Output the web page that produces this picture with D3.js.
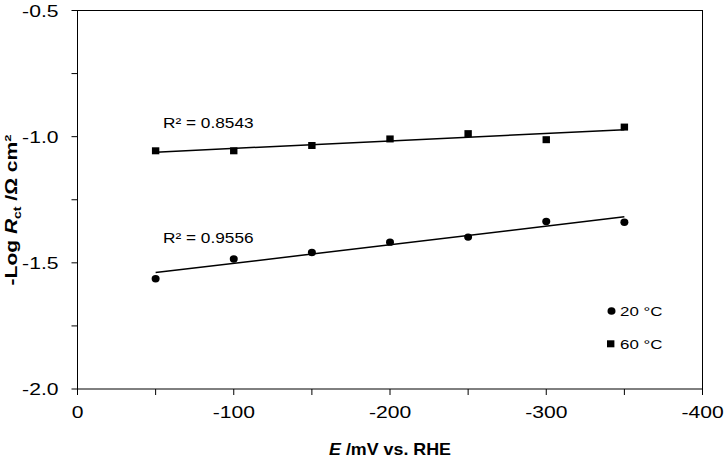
<!DOCTYPE html>
<html>
<head>
<meta charset="utf-8">
<script src="https://cdn.jsdelivr.net/npm/d3@7"></script>
<style>
html,body{margin:0;padding:0;background:#fff;}
svg{display:block;font-family:"Liberation Sans",Arial,sans-serif;}
</style>
</head>
<body>
<svg id="chart" width="724" height="466"></svg>
<script>
// Data
const potentials = [-50, -100, -150, -200, -250, -300, -350];
const series20C = [-1.563, -1.485, -1.459, -1.418, -1.398, -1.336, -1.339];
const series60C = [-1.056, -1.056, -1.035, -1.009, -0.988, -1.012, -0.962];
const r2Labels = ["R² = 0.9556", "R² = 0.8543"];
const legendLabels = ["20 °C", "60 °C"];
const xTickValues = [0, -100, -200, -300, -400];
const xMinorTicks = [0, -50, -100, -150, -200, -250, -300, -350, -400];
const yTickValues = [-0.5, -1.0, -1.5, -2.0];
const yMinorTicks = [-0.5, -0.75, -1.0, -1.25, -1.5, -1.75, -2.0];

const svg = d3.select("#chart");
const L = 77.5, R = 702.5, T = 10.5, B = 389;
const x = d3.scaleLinear().domain([0, -400]).range([L, R]);
const y = d3.scaleLinear().domain([-2.0, -0.5]).range([B, T]);

function txt(g, px, py, s, size, opts = {}) {
  const sx = opts.sx || 1.25;
  const t = g.append("text")
    .attr("transform", `translate(${px},${py}) scale(${sx},1)` + (opts.rot ? ` rotate(${opts.rot})` : ""))
    .attr("font-size", size)
    .attr("text-anchor", opts.anchor || "start")
    .attr("font-weight", opts.bold ? "bold" : "normal")
    .attr("fill", "#000");
  if (typeof s === "string") t.text(s);
  return t;
}

// frame
svg.append("rect").attr("x", L).attr("y", T).attr("width", R - L).attr("height", B - T)
  .attr("fill", "none").attr("stroke", "#000").attr("stroke-width", 1);

// ticks
const ax = svg.append("g").attr("stroke", "#000").attr("stroke-width", 1);
yMinorTicks.forEach(v => ax.append("line").attr("x1", L - 6).attr("x2", L).attr("y1", y(v)).attr("y2", y(v)));
xMinorTicks.forEach(v => ax.append("line").attr("x1", x(v)).attr("x2", x(v)).attr("y1", B).attr("y2", B + 6));

const lab = svg.append("g");
yTickValues.forEach(v => txt(lab, 58.5, y(v) + 6, d3.format(".1f")(v).replace("−", "-"), 16.5, {anchor: "end", sx: 1.28}));
xTickValues.forEach(v => txt(lab, x(v), 418, String(v), 16.5, {anchor: "middle", sx: 1.28}));

// axis titles
const xt = txt(svg, 390, 455, null, 17, {anchor: "middle", bold: true, sx: 1.05});
xt.append("tspan").attr("font-style", "italic").text("E");
xt.append("tspan").text(" /mV vs. RHE");

const yt = txt(svg, 17, 210, null, 21, {anchor: "middle", bold: true, rot: -90, sx: 0.75});
yt.append("tspan").text("-Log ");
yt.append("tspan").attr("font-style", "italic").text("R");
yt.append("tspan").attr("font-size", 14).attr("dy", 5).text("ct");
yt.append("tspan").attr("dy", -5).text(" /Ω cm");
yt.append("tspan").attr("font-size", 13).attr("dy", -8).text("2");

// regression lines
function fit(xs, ys) {
  const mx = d3.mean(xs), my = d3.mean(ys);
  const b = d3.sum(xs, (v, i) => (v - mx) * (ys[i] - my)) / d3.sum(xs, v => (v - mx) ** 2);
  return v => my + b * (v - mx);
}
const line = d3.line().x(d => x(d[0])).y(d => y(d[1]));
[series20C, series60C].forEach(s => {
  const f = fit(potentials, s);
  const ext = d3.extent(potentials);
  svg.append("path").attr("d", line([[ext[1], f(ext[1])], [ext[0], f(ext[0])]]))
    .attr("stroke", "#000").attr("stroke-width", 1.5).attr("fill", "none");
});

// markers
svg.append("g").selectAll("ellipse").data(potentials).join("ellipse")
  .attr("cx", (d) => x(d)).attr("cy", (d, i) => y(series20C[i]))
  .attr("rx", 4).attr("ry", 3.7).attr("fill", "#000");
svg.append("g").selectAll("rect").data(potentials).join("rect")
  .attr("x", d => x(d) - 3.7).attr("y", (d, i) => y(series60C[i]) - 3.5)
  .attr("width", 7.4).attr("height", 7).attr("fill", "#000");

// R² labels
txt(svg, 163, 243, r2Labels[0], 13.8, {sx: 1.25});
txt(svg, 163, 128, r2Labels[1], 13.8, {sx: 1.25});

// legend
svg.append("ellipse").attr("cx", 611.5).attr("cy", 311).attr("rx", 4).attr("ry", 3.8).attr("fill", "#000");
txt(svg, 620, 316, legendLabels[0], 13.5);
svg.append("rect").attr("x", 607).attr("y", 340.3).attr("width", 7.4).attr("height", 7).attr("fill", "#000");
txt(svg, 620, 349, legendLabels[1], 13.5);
</script>
</body>
</html>
